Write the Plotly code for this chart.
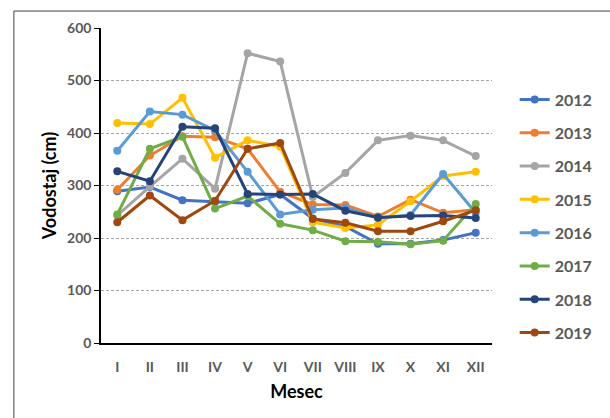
import plotly.graph_objects as go

# Monthly water level (cm) per year
months = ["I", "II", "III", "IV", "V", "VI", "VII", "VIII", "IX", "X", "XI", "XII"]

y2012 = [289, 297, 272, 269, 266, 283, 237, 222, 189, 189, 196, 210]
y2013 = [292, 357, 394, 392, 370, 288, 264, 263, 241, 273, 248, 254]
y2014 = [243, 298, 351, 294, 552, 536, 278, 324, 386, 395, 386, 356]
y2015 = [419, 417, 467, 353, 386, 374, 230, 219, 225, 270, 318, 326]
y2016 = [366, 441, 435, 405, 326, 245, 254, 257, 238, 244, 322, 248]
y2017 = [245, 370, 393, 256, 280, 227, 215, 194, 193, 188, 195, 265]
y2018 = [327, 308, 412, 409, 284, 283, 284, 252, 239, 242, 243, 238]
y2019 = [230, 281, 234, 271, 370, 381, 236, 229, 213, 213, 232, 253]

series = [
    ("2012", y2012, "#4472C4"),
    ("2013", y2013, "#ED7D31"),
    ("2014", y2014, "#A5A5A5"),
    ("2015", y2015, "#FFC000"),
    ("2016", y2016, "#5B9BD5"),
    ("2017", y2017, "#70AD47"),
    ("2018", y2018, "#264478"),
    ("2019", y2019, "#9E480E"),
]

FONT = "Lato"

fig = go.Figure()
for name, vals, color in series:
    fig.add_trace(go.Scatter(
        x=months, y=vals, name=name, legendgroup=name,
        mode="lines+markers",
        line=dict(color=color, width=3),
        marker=dict(color=color, size=8),
    ))

# plot area geometry (pixels)
L, R, T, B = 101, 496, 28, 343.5
W, H = 610, 418
pw, ph = R - L, B - T

fig.update_layout(
    width=W, height=H,
    margin=dict(l=L, r=W - R, t=T, b=H - B, pad=0),
    paper_bgcolor="white", plot_bgcolor="white",
    font=dict(family=FONT, color="#595959"),
    showlegend=True,
    legend=dict(
        x=1.058, xanchor="left", y=0.403, yanchor="middle",
        font=dict(family=FONT, size=16, color="#595959", weight="bold"),
        tracegroupgap=9.5, bgcolor="rgba(0,0,0,0)",
    ),
    xaxis=dict(
        type="category", range=[-0.5, 11.5],
        showline=True, linecolor="black", linewidth=1.5,
        showgrid=False, ticks="", zeroline=False,
        ticklabelstandoff=10,
        tickfont=dict(family=FONT, size=14, color="#595959", weight="bold"),
        title=dict(text="Mesec", standoff=12,
                   font=dict(family=FONT, size=18, color="black", weight="bold")),
    ),
    yaxis=dict(
        range=[0, 600], dtick=100,
        showline=True, linecolor="black", linewidth=1.5,
        ticks="outside", ticklen=5, tickcolor="black",
        showgrid=True, gridcolor="#a6a6a6", gridwidth=1, griddash="3px,2px",
        zeroline=False,
        tickfont=dict(family=FONT, size=14, color="#595959", weight="bold"),
        title=dict(text="Vodostaj (cm)", standoff=6,
                   font=dict(family=FONT, size=18, color="black", weight="bold")),
    ),
)

# chart frame
fig.add_shape(
    type="rect", xref="paper", yref="paper",
    x0=(13 - L) / pw, x1=(W + 20 - L) / pw,
    y0=(B - (H + 20)) / ph, y1=(B - 11) / ph,
    line=dict(color="#404040", width=1), fillcolor="rgba(0,0,0,0)", layer="below",
)

fig.write_html("out.html")
